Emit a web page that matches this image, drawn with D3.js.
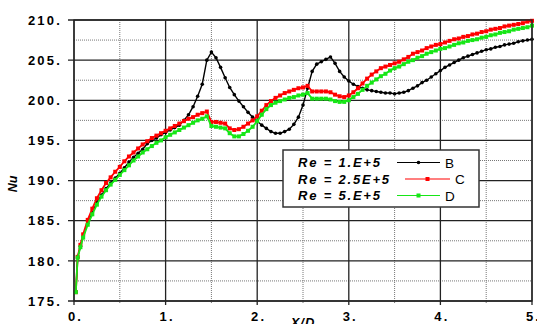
<!DOCTYPE html>
<html>
<head>
<meta charset="utf-8">
<script src="https://cdn.jsdelivr.net/npm/d3@7"></script>
<style>
  html, body { margin: 0; padding: 0; background: #fff; }
  svg { display: block; }
  text { font-family: "Liberation Sans", Arial, sans-serif; }
</style>
</head>
<body>
<svg id="chart" width="537" height="324"></svg>
<script>
// Axial position X/D shared by all three runs
const xOverD = [
  0.02, 0.04, 0.07, 0.10, 0.15, 0.20, 0.25, 0.30, 0.35, 0.40,
  0.45, 0.50, 0.55, 0.60, 0.65, 0.70, 0.75, 0.80, 0.85, 0.90,
  0.95, 1.00, 1.05, 1.10, 1.15, 1.20, 1.25, 1.30, 1.35, 1.40,
  1.45, 1.50, 1.55, 1.60, 1.65, 1.70, 1.75, 1.80, 1.85, 1.90,
  1.95, 2.00, 2.05, 2.10, 2.15, 2.20, 2.25, 2.30, 2.35, 2.40,
  2.45, 2.50, 2.55, 2.60, 2.65, 2.70, 2.75, 2.80, 2.85, 2.90,
  2.95, 3.00, 3.05, 3.10, 3.15, 3.20, 3.25, 3.30, 3.35, 3.40,
  3.45, 3.50, 3.55, 3.60, 3.65, 3.70, 3.75, 3.80, 3.85, 3.90,
  3.95, 4.00, 4.05, 4.10, 4.15, 4.20, 4.25, 4.30, 4.35, 4.40,
  4.45, 4.50, 4.55, 4.60, 4.65, 4.70, 4.75, 4.80, 4.85, 4.90,
  4.95, 5.00
];

// Nusselt number, Re = 1.E+5 (B)
const nuB = [
  176.1, 180.4, 181.8, 183.0, 184.7, 186.0, 187.3, 188.2, 189.0, 189.7,
  190.3, 190.9, 191.6, 192.3, 192.9, 193.4, 193.9, 194.6, 195.0, 195.3,
  195.7, 196.0, 196.3, 196.6, 196.9, 197.5, 198.2, 199.2, 200.5, 202.0,
  205.0, 206.0, 205.3, 204.1, 202.8, 201.6, 200.7, 199.9, 199.2, 198.5,
  197.9, 197.4, 196.9, 196.5, 196.1, 195.9, 195.9, 196.1, 196.4, 197.0,
  197.9, 199.4, 201.5, 203.6, 204.5, 204.8, 205.1, 205.4, 204.6, 203.6,
  202.9, 202.4, 202.0, 201.7, 201.5, 201.3, 201.2, 201.1, 201.0, 200.9,
  200.9, 200.8, 200.9, 201.0, 201.2, 201.5, 201.8, 202.2, 202.5, 202.9,
  203.3, 203.7, 204.1, 204.4, 204.7, 205.0, 205.3, 205.5, 205.7, 205.9,
  206.1, 206.3, 206.4, 206.6, 206.7, 206.9, 207.0, 207.1, 207.3, 207.4,
  207.5, 207.6
];

// Nusselt number, Re = 2.5E+5 (C)
const nuC = [
  176.1, 180.5, 182.0, 183.3, 185.1, 186.5, 187.8, 188.8, 189.7, 190.4,
  191.1, 191.7, 192.4, 193.0, 193.5, 194.0, 194.5, 194.9, 195.3, 195.6,
  195.9, 196.2, 196.5, 196.8, 197.1, 197.4, 197.7, 197.9, 198.2, 198.4,
  198.6, 197.3, 197.3, 197.2, 197.1, 196.5, 196.3, 196.4, 196.7, 197.1,
  197.5, 198.0, 198.7, 199.4, 199.9, 200.3, 200.6, 200.9, 201.1, 201.3,
  201.5, 201.6, 201.8, 201.1, 201.1, 201.1, 201.1, 201.0, 200.7, 200.5,
  200.4, 200.6, 201.0, 201.5, 202.1, 202.7, 203.2, 203.6, 204.0, 204.2,
  204.4, 204.6, 204.8, 205.1, 205.4, 205.8, 206.0, 206.2, 206.5, 206.7,
  206.9, 207.0, 207.2, 207.4, 207.6, 207.7, 207.9, 208.0, 208.2, 208.3,
  208.5, 208.6, 208.8, 208.9, 209.0, 209.2, 209.3, 209.4, 209.5, 209.6,
  209.8, 209.9
];

// Nusselt number, Re = 5.E+5 (D)
const nuD = [
  176.1, 180.4, 181.7, 182.9, 184.5, 185.8, 187.0, 188.0, 188.8, 189.5,
  190.1, 190.7, 191.3, 191.9, 192.5, 193.0, 193.5, 193.9, 194.3, 194.7,
  195.0, 195.4, 195.7, 196.0, 196.3, 196.6, 196.9, 197.2, 197.5, 197.7,
  198.0, 196.8, 196.7, 196.6, 196.5, 195.9, 195.5, 195.5, 195.8, 196.2,
  196.7, 197.4, 198.2, 198.9, 199.4, 199.7, 199.9, 200.1, 200.3, 200.4,
  200.6, 200.7, 200.9, 200.2, 200.2, 200.2, 200.2, 200.1, 199.9, 199.8,
  199.8, 200.0, 200.4, 200.8, 201.3, 201.8, 202.2, 202.6, 203.0, 203.3,
  203.7, 204.0, 204.2, 204.5, 204.8, 205.0, 205.3, 205.5, 205.8, 206.0,
  206.2, 206.4, 206.5, 206.7, 206.9, 207.1, 207.2, 207.4, 207.5, 207.6,
  207.8, 207.9, 208.1, 208.2, 208.4, 208.5, 208.6, 208.8, 208.9, 209.0,
  209.1, 209.3
];

const seriesNames = ["B", "C", "D"];
const legendLabels = ["Re = 1.E+5", "Re = 2.5E+5", "Re = 5.E+5"];
const xTicks = [0, 1, 2, 3, 4, 5];
const yTicks = [175, 180, 185, 190, 195, 200, 205, 210];

const svg = d3.select("#chart");
const x = d3.scaleLinear().domain([0, 5]).range([74, 532]);
const y = d3.scaleLinear().domain([175, 210]).range([301, 20]);

// minor dotted grid
const gGrid = svg.append("g");
const xMinor = xTicks.slice(0, -1).map(t => t + 0.5);
const yMinor = yTicks.slice(0, -1).map(t => t + 2.5);
gGrid.selectAll("line.vm").data(xMinor).join("line")
  .attr("x1", d => x(d)).attr("x2", d => x(d))
  .attr("y1", y(210)).attr("y2", y(175) + 3)
  .attr("stroke", "#777").attr("stroke-width", 1).attr("stroke-dasharray", "1,1");
gGrid.selectAll("line.hm").data(yMinor).join("line")
  .attr("x1", x(0)).attr("x2", x(5))
  .attr("y1", d => y(d)).attr("y2", d => y(d))
  .attr("stroke", "#777").attr("stroke-width", 1).attr("stroke-dasharray", "1,1");

// major solid grid
gGrid.selectAll("line.vM").data(xTicks).join("line")
  .attr("x1", d => x(d)).attr("x2", d => x(d))
  .attr("y1", y(210)).attr("y2", y(175) + 4)
  .attr("stroke", "#222").attr("stroke-width", 1.3);
gGrid.selectAll("line.hM").data(yTicks).join("line")
  .attr("x1", x(0) - 6).attr("x2", x(5))
  .attr("y1", d => y(d)).attr("y2", d => y(d))
  .attr("stroke", "#222").attr("stroke-width", 1.3);

// axes (labels only; lines drawn by the grid)
const fmt = d => d + ".";
const ax = svg.append("g").attr("transform", `translate(0,${y(175)})`)
  .call(d3.axisBottom(x).tickValues(xTicks).tickFormat(fmt).tickSize(0).tickPadding(11));
const ay = svg.append("g").attr("transform", `translate(${x(0)},0)`)
  .call(d3.axisLeft(y).tickValues(yTicks).tickFormat(fmt).tickSize(0).tickPadding(12));
[ax, ay].forEach(g => {
  g.select(".domain").remove();
  g.selectAll("text")
    .attr("font-family", "'Liberation Sans', Arial, sans-serif")
    .attr("font-size", 13).attr("font-weight", "bold")
    .attr("letter-spacing", "2.2px").attr("fill", "#000");
});
ax.selectAll("text").attr("dx", "1px");

// axis titles
svg.append("text").attr("x", x(2.5)).attr("y", 327)
  .attr("text-anchor", "middle").attr("font-size", 13)
  .attr("font-weight", "bold").attr("font-style", "italic")
  .attr("letter-spacing", "1px").text("X/D");
svg.append("text").attr("transform", "translate(17,184) rotate(-90)")
  .attr("text-anchor", "middle").attr("font-size", 12.5)
  .attr("font-weight", "bold").attr("font-style", "italic")
  .text("Nu");

// curves
const line = d3.line().x(d => x(d[0])).y(d => y(d[1]));
const styles = [
  { color: "#000000", width: 1.4, marker: "circle" },
  { color: "#ff0000", width: 1.8, marker: "square" },
  { color: "#16e616", width: 1.8, marker: "square" }
];
const allSeries = [nuB, nuC, nuD].map(vals => xOverD.map((v, i) => [v, vals[i]]));

allSeries.forEach((pts, k) => {
  const s = styles[k];
  const g = svg.append("g");
  g.append("path").datum(pts).attr("d", line)
    .attr("fill", "none").attr("stroke", s.color).attr("stroke-width", s.width);
  if (s.marker === "circle") {
    g.selectAll("circle").data(pts).join("circle")
      .attr("cx", d => x(d[0])).attr("cy", d => y(d[1])).attr("r", 1.8)
      .attr("fill", s.color);
  } else {
    g.selectAll("rect").data(pts).join("rect")
      .attr("x", d => x(d[0]) - 2).attr("y", d => y(d[1]) - 2)
      .attr("width", 4).attr("height", 4).attr("fill", s.color);
  }
});

// frame edges on top
svg.append("rect").attr("x", x(0)).attr("y", y(210))
  .attr("width", x(5) - x(0)).attr("height", y(175) - y(210))
  .attr("fill", "none").attr("stroke", "#222").attr("stroke-width", 1.3);

// legend
const lg = svg.append("g");
lg.append("rect").attr("x", 283).attr("y", 150).attr("width", 196).attr("height", 57)
  .attr("fill", "#fff").attr("stroke", "#333").attr("stroke-width", 1.5);
const rowY = [162.5, 179, 195.5];
const lineX = [[397, 440], [405, 450], [397, 440]];
legendLabels.forEach((lab, i) => {
  const s = styles[i];
  lg.append("text").attr("x", 298).attr("y", rowY[i] + 4.5)
    .attr("font-size", 13).attr("font-weight", "bold").attr("font-style", "italic")
    .attr("letter-spacing", "1.8px").text(lab);
  const [a, b] = lineX[i];
  lg.append("line").attr("x1", a).attr("x2", b).attr("y1", rowY[i]).attr("y2", rowY[i])
    .attr("stroke", s.color).attr("stroke-width", 1.2);
  const mx = (a + b) / 2;
  if (s.marker === "circle") {
    lg.append("circle").attr("cx", mx).attr("cy", rowY[i]).attr("r", 1.8).attr("fill", s.color);
  } else {
    lg.append("rect").attr("x", mx - 2).attr("y", rowY[i] - 2).attr("width", 4).attr("height", 4)
      .attr("fill", s.color);
  }
  lg.append("text").attr("x", b + 5).attr("y", rowY[i] + 5)
    .attr("font-size", 13.5).text(seriesNames[i]);
});
</script>
</body>
</html>
